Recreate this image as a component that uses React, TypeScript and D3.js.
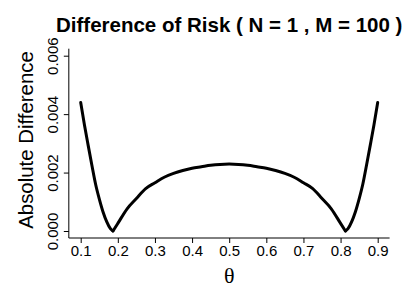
import React, { useEffect, useRef } from 'react';
import * as d3 from 'd3';

// theta grid and absolute risk difference
const theta = [
    0.1, 0.11, 0.12, 0.13, 0.14, 0.15, 0.16, 0.17, 0.18, 0.187,
    0.2, 0.225, 0.25, 0.275, 0.3, 0.325, 0.35, 0.375, 0.4, 0.425, 0.45, 0.475, 0.5,
    0.525, 0.55, 0.575, 0.6, 0.625, 0.65, 0.675, 0.7, 0.725, 0.75, 0.775, 0.8,
    0.813, 0.82, 0.83, 0.84, 0.85, 0.86, 0.87, 0.88, 0.89, 0.9
];
const absDiff = [
    0.0044, 0.00364, 0.00294, 0.00226, 0.00161, 0.0011, 0.00066, 0.00032, 0.00008, 0,
    0.00026, 0.00076, 0.00111, 0.00145, 0.00165, 0.00184, 0.00197, 0.00207, 0.00215, 0.0022, 0.00225, 0.00228, 0.00229,
    0.00228, 0.00225, 0.0022, 0.00215, 0.00207, 0.00197, 0.00184, 0.00165, 0.00145, 0.00111, 0.00076, 0.00026,
    0, 0.00008, 0.00032, 0.00066, 0.0011, 0.00161, 0.00226, 0.00294, 0.00364, 0.0044
];
const xTicks = [0.1, 0.2, 0.3, 0.4, 0.5, 0.6, 0.7, 0.8, 0.9];
const yTicks = [0, 0.002, 0.004, 0.006];

const App: React.FC = () => {
    const ref = useRef<SVGSVGElement>(null);

    useEffect(() => {
        const svg = d3.select(ref.current);
        svg.selectAll("*").remove();

        const font = "'Liberation Sans', Arial, Helvetica, sans-serif";

        const x = d3.scaleLinear().domain([0.1, 0.9]).range([80.7, 377.7]);
        const y = d3.scaleLinear().domain([0, 0.006]).range([231, 55.7]);

        // plot region (R style 4% padding)
        const left = x(0.068), right = x(0.932);
        const bottom = y(-0.00024), top = y(0.00624);

        // L-shaped box
        svg.append("path")
            .attr("d", `M${left},${top}V${bottom}H${right}`)
            .attr("fill", "none")
            .attr("stroke", "#000")
            .attr("stroke-width", 1);

        // x axis
        svg.append("g")
            .attr("transform", `translate(0,${bottom})`)
            .call(d3.axisBottom(x).tickValues(xTicks).tickSize(5).tickPadding(2).tickFormat(d3.format(".1f")))
            .call(g => g.select(".domain").remove())
            .call(g => g.selectAll("text")
                .attr("fill", "#000")
                .style("font", `15px ${font}`));

        // y axis with rotated labels
        svg.append("g")
            .attr("transform", `translate(${left},0)`)
            .call(d3.axisLeft(y).tickValues(yTicks).tickSize(5).tickFormat(d3.format(".3f")))
            .call(g => g.select(".domain").remove())
            .call(g => g.selectAll("text")
                .attr("transform", "rotate(-90)")
                .attr("x", 0)
                .attr("y", -10.5)
                .attr("dy", 0)
                .attr("text-anchor", "middle")
                .attr("fill", "#000")
                .style("font", `15px ${font}`));

        // the curve, drawn in pieces so the cusps stay sharp
        const pts = theta.map((t, i) => [t, absDiff[i]] as [number, number]);
        const zeros = pts.map((p, i) => (p[1] === 0 ? i : -1)).filter(i => i >= 0);
        const cuts = [0, ...zeros, pts.length - 1];
        const line = d3.line<[number, number]>()
            .x(d => x(d[0]))
            .y(d => y(d[1]))
            .curve(d3.curveMonotoneX);
        for (let k = 0; k < cuts.length - 1; k++) {
            svg.append("path")
                .datum(pts.slice(cuts[k], cuts[k + 1] + 1))
                .attr("d", line)
                .attr("fill", "none")
                .attr("stroke", "#000")
                .attr("stroke-width", 3)
                .attr("stroke-linecap", "round")
                .attr("stroke-linejoin", "round");
        }

        // title
        svg.append("text")
            .attr("x", (left + right) / 2)
            .attr("y", 31.5)
            .attr("text-anchor", "middle")
            .style("font", `bold 20.5px ${font}`)
            .text("Difference of Risk ( N = 1 , M = 100 )");

        // axis titles
        svg.append("text")
            .attr("x", (left + right) / 2)
            .attr("y", 283)
            .attr("text-anchor", "middle")
            .style("font", "22px 'Liberation Serif', 'Times New Roman', serif")
            .text("θ");

        svg.append("text")
            .attr("transform", `translate(32.5,140) rotate(-90)`)
            .attr("text-anchor", "middle")
            .style("font", `20.4px ${font}`)
            .text("Absolute Difference");
    }, []);

    return (
        <svg ref={ref} width={409} height={307}
            style={{ position: 'absolute', left: 0, top: 0, background: '#fff' }} />
    );
};

export default App;
